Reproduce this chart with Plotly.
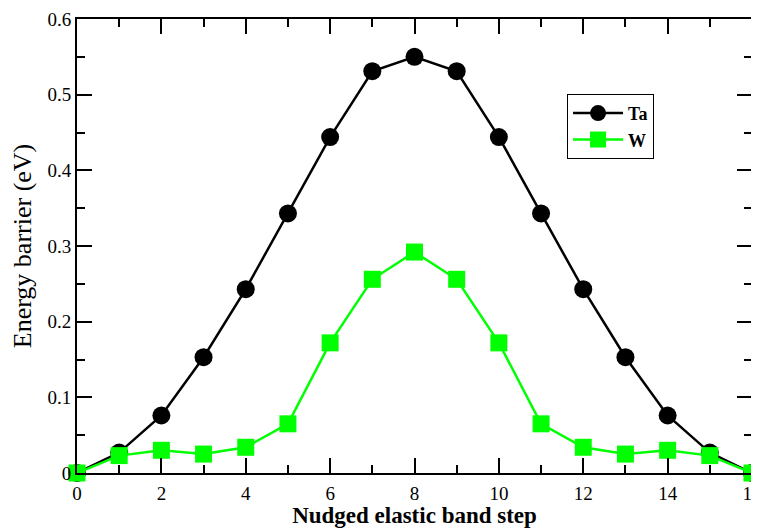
import plotly.graph_objects as go

steps = list(range(17))
ta_energy = [0.0, 0.027, 0.076, 0.153, 0.243, 0.343, 0.444, 0.531, 0.550,
             0.531, 0.444, 0.343, 0.243, 0.153, 0.076, 0.027, 0.0]
w_energy = [0.0, 0.023, 0.030, 0.025, 0.034, 0.065, 0.172, 0.256, 0.292,
            0.256, 0.172, 0.065, 0.034, 0.025, 0.030, 0.023, 0.0]
series_names = ["<b>Ta</b>", "<b>W</b>"]

font_family = "Liberation Serif, Times New Roman, serif"

fig = go.Figure()
fig.add_trace(go.Scatter(
    x=steps, y=ta_energy, name=series_names[0], mode="lines+markers",
    line=dict(color="black", width=2.5),
    marker=dict(symbol="circle", size=18, color="black"),
    cliponaxis=False,
))
fig.add_trace(go.Scatter(
    x=steps, y=w_energy, name=series_names[1], mode="lines+markers",
    line=dict(color="#00ff00", width=2.5),
    marker=dict(symbol="square", size=17, color="#00ff00"),
    cliponaxis=False,
))

axis_common = dict(
    showline=True, linecolor="black", linewidth=2, mirror="allticks",
    ticks="inside", ticklen=15, tickwidth=1.5, tickcolor="black",
    showgrid=False, zeroline=False, automargin=False,
    tickfont=dict(family=font_family, size=19, color="black"),
)

fig.update_xaxes(
    range=[0, 16], tickmode="linear", tick0=0, dtick=2,
    minor=dict(ticks="inside", ticklen=8, dtick=1, tickcolor="black", tickwidth=1.5),
    title=dict(text="<b>Nudged elastic band step</b>",
               font=dict(family=font_family, size=23, color="black"), standoff=0),
    ticklabelstandoff=2, ticklabeloverflow="allow",
    **axis_common,
)
fig.update_yaxes(
    range=[0, 0.6], tickmode="linear", tick0=0, dtick=0.1,
    tickformat="~g",
    minor=dict(ticks="inside", ticklen=8, dtick=0.05, tickcolor="black", tickwidth=1.5),
    title=dict(text="Energy barrier (eV)",
               font=dict(family=font_family, size=26, color="black"), standoff=8),
    **axis_common,
)

# the page body adds an 8px offset, so the figure is 8px smaller and margins shifted
fig.update_layout(
    width=751, height=520,
    margin=dict(l=69, r=7, t=11, b=55),
    paper_bgcolor="white", plot_bgcolor="white",
    legend=dict(
        x=0.726, y=0.835, xanchor="left", yanchor="top",
        bordercolor="black", borderwidth=1, bgcolor="white",
        font=dict(family=font_family, size=18, color="black"),
        itemwidth=50, tracegroupgap=0,
    ),
)

fig.write_html("out.html")
